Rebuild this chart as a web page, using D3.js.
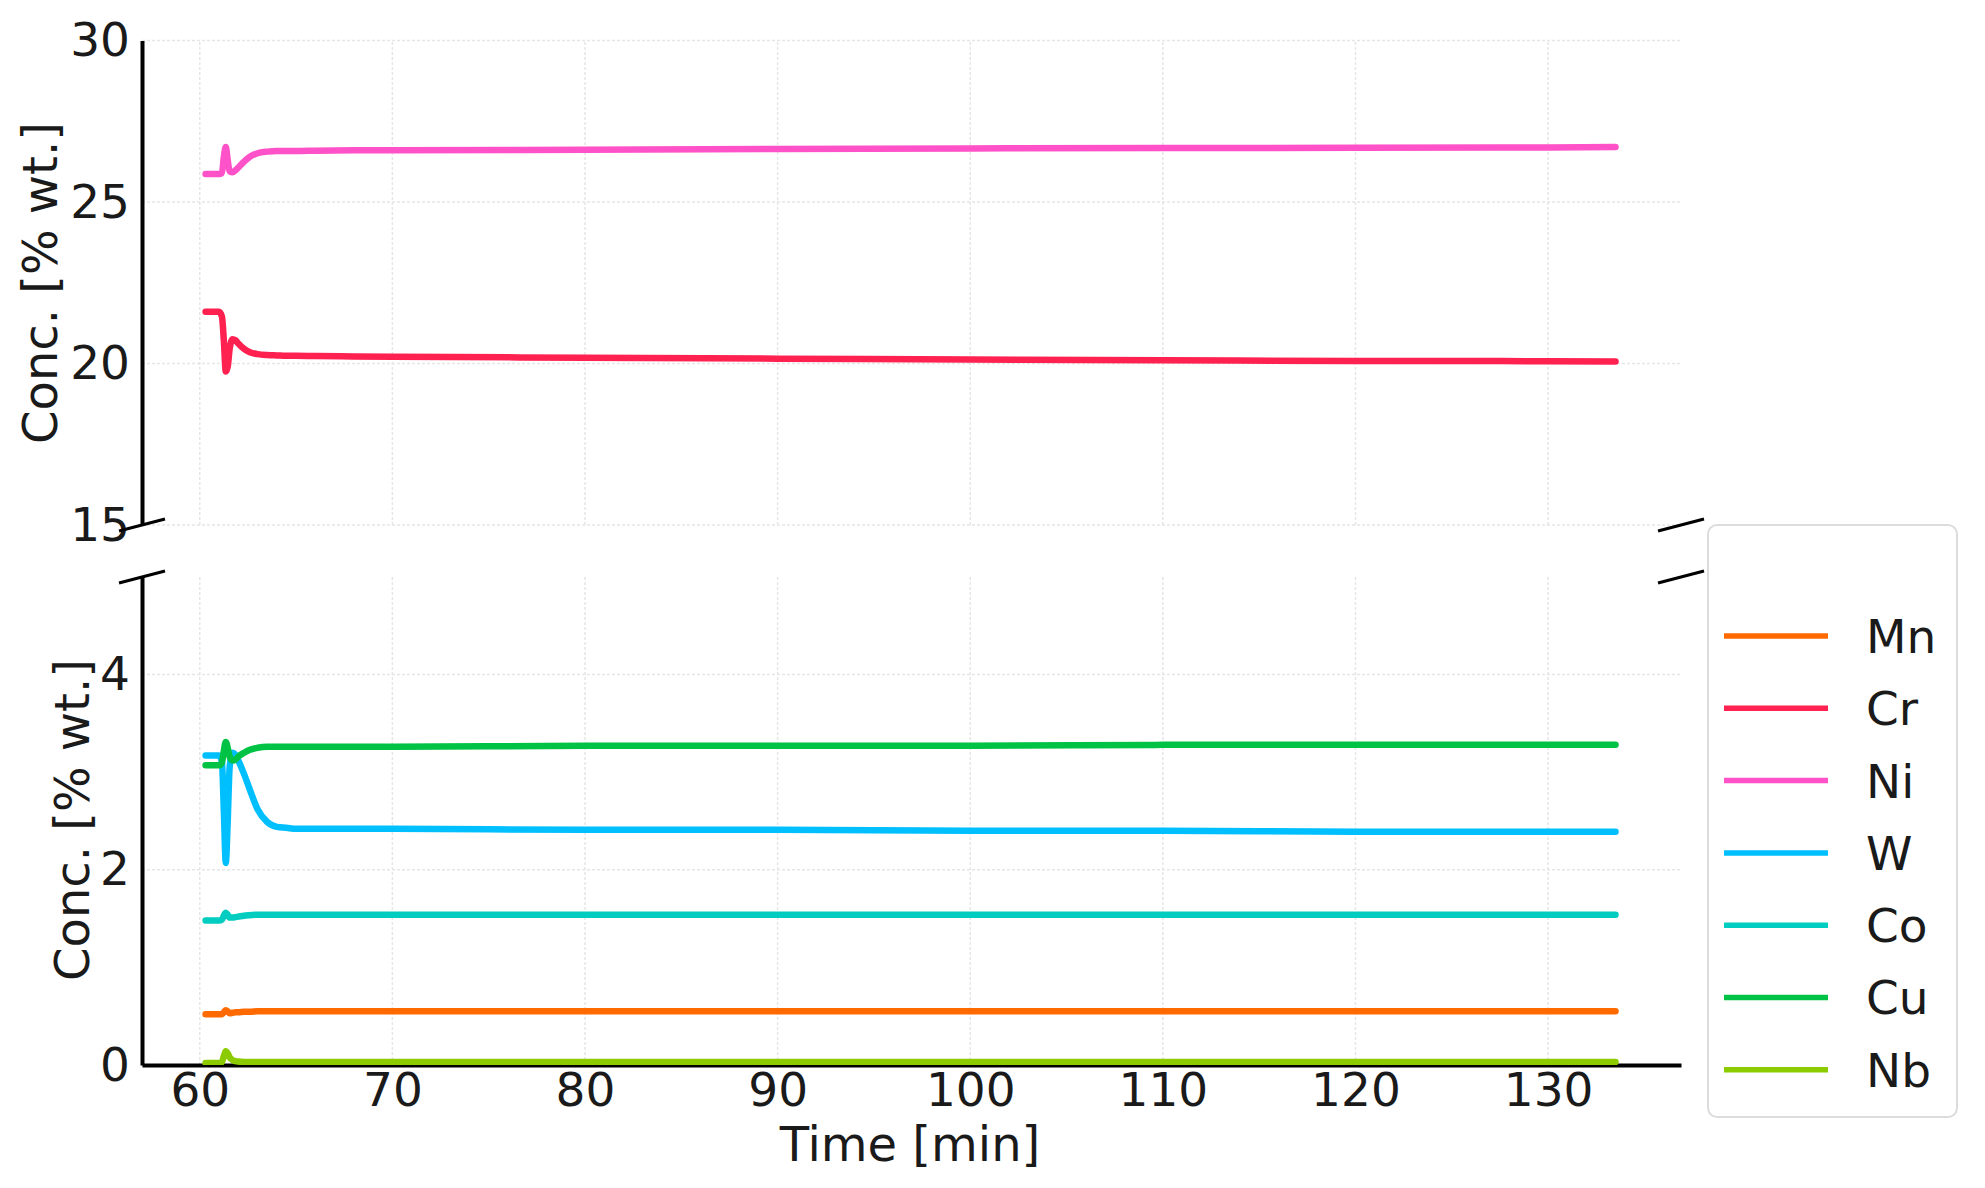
<!DOCTYPE html>
<html><head><meta charset="utf-8">
<script src="https://cdn.jsdelivr.net/npm/d3@7"></script>
<style>body{margin:0;background:#fff}svg{display:block}</style>
</head><body><svg id="c" width="1985" height="1188"></svg>
<script>
const time = [60.3, 61.0, 61.15, 61.25, 61.35, 61.45, 61.55, 61.7, 61.85, 62.0, 62.3, 62.6, 63.0, 63.5, 64.0, 64.5, 65, 66, 68, 70, 80, 90, 100, 110, 120, 130, 133.5];
const Mn = [0.52,0.52,0.52,0.54,0.56,0.55,0.53,0.535,0.54,0.54,0.545,0.545,0.55,0.55,0.55,0.55,0.55,0.55,0.55,0.55,0.55,0.55,0.55,0.55,0.55,0.55,0.55];
const Cr = [21.6,21.6,21.45,20.7,19.75,19.9,20.45,20.75,20.72,20.62,20.45,20.35,20.29,20.26,20.25,20.24,20.24,20.23,20.22,20.21,20.18,20.15,20.12,20.1,20.08,20.07,20.06];
const Ni = [25.87,25.87,25.9,26.4,26.7,26.3,25.95,25.92,25.98,26.07,26.25,26.4,26.51,26.56,26.58,26.58,26.58,26.59,26.6,26.6,26.62,26.64,26.66,26.67,26.68,26.69,26.7];
const W  = [3.17,3.17,3.1,2.6,2.07,2.5,3.05,3.2,3.18,3.12,2.98,2.82,2.62,2.49,2.44,2.43,2.42,2.42,2.42,2.42,2.41,2.41,2.4,2.4,2.39,2.39,2.39];
const Co = [1.48,1.48,1.49,1.53,1.56,1.54,1.51,1.51,1.515,1.52,1.53,1.535,1.54,1.54,1.54,1.54,1.54,1.54,1.54,1.54,1.54,1.54,1.54,1.54,1.54,1.54,1.54];
const Cu = [3.07,3.07,3.1,3.22,3.31,3.25,3.16,3.12,3.13,3.16,3.2,3.23,3.25,3.26,3.26,3.26,3.26,3.26,3.26,3.26,3.27,3.27,3.27,3.28,3.28,3.28,3.28];
const Nb = [0.02,0.02,0.03,0.09,0.14,0.12,0.08,0.05,0.04,0.035,0.03,0.03,0.03,0.03,0.03,0.03,0.03,0.03,0.03,0.03,0.03,0.03,0.03,0.03,0.03,0.03,0.03];
const seriesNames = ["Mn","Cr","Ni","W","Co","Cu","Nb"];
const seriesValues = [Mn, Cr, Ni, W, Co, Cu, Nb];
const colors = ["#ff6a00","#ff2150","#ff52c8","#00bfff","#00cdc0","#00c244","#8ccb00"];
const topSeries = ["Cr","Ni"];
const xTicks = [60,70,80,90,100,110,120,130];
const topTicks = [15,20,25,30];
const botTicks = [0,2,4];

const svg = d3.select("#c");
const font = "DejaVu Sans, sans-serif";
const x = d3.scaleLinear().domain([57.0, 136.9]).range([142, 1681]);
const yTop = d3.scaleLinear().domain([15, 30]).range([525, 40.5]);
const yBot = d3.scaleLinear().domain([0, 5]).range([1065, 577]);
const gridCol = "#e6e6e6";

function panel(y, ticks){
  const g = svg.append("g");
  const [y0, y1] = y.range();
  g.selectAll("line.vg").data(xTicks).join("line")
    .attr("x1", d=>x(d)).attr("x2", d=>x(d)).attr("y1", y0).attr("y2", y1)
    .attr("stroke", gridCol).attr("stroke-width", 1.5).attr("stroke-dasharray","3,2");
  g.selectAll("line.hg").data(ticks).join("line")
    .attr("x1", x.range()[0]).attr("x2", x.range()[1]).attr("y1", d=>y(d)).attr("y2", d=>y(d))
    .attr("stroke", gridCol).attr("stroke-width", 1.5).attr("stroke-dasharray","3,2");
  const ax = g.append("g").attr("transform", `translate(${x.range()[0]},0)`)
    .call(d3.axisLeft(y).tickValues(ticks).tickSize(0).tickPadding(12).tickFormat(d3.format("d")));
  ax.select(".domain").attr("stroke","#000").attr("stroke-width",4);
  ax.selectAll("text").attr("font-family", font).attr("font-size", 47).attr("fill","#1a1a1a");
  return g;
}
panel(yTop, topTicks);
panel(yBot, botTicks);

const xa = svg.append("g").attr("transform", `translate(0,${yBot.range()[0]})`)
  .call(d3.axisBottom(x).tickValues(xTicks).tickSize(0).tickPadding(8).tickFormat(d3.format("d")));
xa.select(".domain").attr("stroke","#000").attr("stroke-width",4);
xa.selectAll("text").attr("font-family", font).attr("font-size", 47).attr("fill","#1a1a1a");

svg.append("clipPath").attr("id","ct").append("rect")
  .attr("x",142).attr("y",40).attr("width",1539).attr("height",485);
svg.append("clipPath").attr("id","cb").append("rect")
  .attr("x",142).attr("y",577).attr("width",1539).attr("height",488);
seriesNames.forEach((name,i)=>{
  const isTop = topSeries.includes(name);
  const y = isTop ? yTop : yBot;
  const line = d3.line().x((d,j)=>x(time[j])).y(d=>y(d)).curve(d3.curveMonotoneX);
  svg.append("path").datum(seriesValues[i]).attr("d", line)
    .attr("fill","none").attr("stroke", colors[i]).attr("stroke-width", 6.5)
    .attr("stroke-linejoin","round").attr("stroke-linecap","round")
    .attr("clip-path", isTop ? "url(#ct)" : "url(#cb)");
});

function brk(cx, cy){
  svg.append("line").attr("x1", cx-23).attr("y1", cy+6).attr("x2", cx+23).attr("y2", cy-6)
    .attr("stroke","#000").attr("stroke-width",3);
}
brk(x.range()[0], yTop.range()[0]);
brk(x.range()[1], yTop.range()[0]);
brk(x.range()[0], yBot.range()[1]);
brk(x.range()[1], yBot.range()[1]);

svg.append("text").attr("x", 910).attr("y", 1161).attr("text-anchor","middle")
  .attr("font-family", font).attr("font-size", 48).attr("fill","#1a1a1a").text("Time [min]");
svg.append("text").attr("transform","translate(57,283) rotate(-90)").attr("text-anchor","middle")
  .attr("font-family", font).attr("font-size", 48).attr("fill","#1a1a1a").text("Conc. [% wt.]");
svg.append("text").attr("transform","translate(89,820) rotate(-90)").attr("text-anchor","middle")
  .attr("font-family", font).attr("font-size", 48).attr("fill","#1a1a1a").text("Conc. [% wt.]");

const lg = svg.append("g");
lg.append("rect").attr("x",1708).attr("y",525).attr("width",249).attr("height",592)
  .attr("rx",9).attr("fill","#fff").attr("stroke","#dcdcdc").attr("stroke-width",2);
seriesNames.forEach((name,i)=>{
  const cy = 636 + i*72.3;
  lg.append("line").attr("x1",1724).attr("x2",1828).attr("y1",cy).attr("y2",cy)
    .attr("stroke",colors[i]).attr("stroke-width",5.5);
  lg.append("text").attr("x",1866).attr("y",cy).attr("dy","0.36em")
    .attr("font-family", font).attr("font-size", 47).attr("fill","#1a1a1a").text(name);
});
</script></body></html>
